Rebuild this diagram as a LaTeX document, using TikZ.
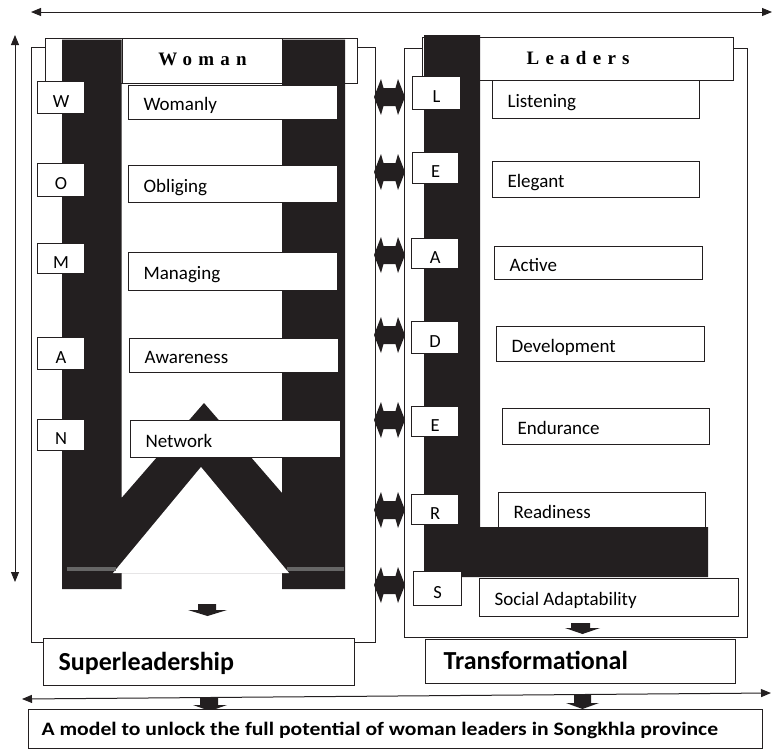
\documentclass[tikz,border=0pt]{standalone}
\usepackage{fontspec}
\setmainfont{Carlito}
\newfontfamily\hdrfont[LetterSpace=33]{Liberation Serif}
\newfontfamily\modelfont[FakeStretch=1.14]{Carlito}
\usetikzlibrary{arrows.meta}
\definecolor{ink}{RGB}{35,31,32}
\tikzset{
  bx/.style={draw=ink, line width=1.2pt, fill=white, anchor=north west},
  wbox/.style={bx, inner ysep=0pt, inner xsep=15pt, text height=16pt, text depth=0pt, font=\fontsize{19}{21}\selectfont},
  lbox/.style={bx, inner sep=0pt, text height=19pt, text depth=0pt, font=\fontsize{18.5}{20}\selectfont},
  outerbox/.style={bx, inner sep=0pt},
  thinarrow/.style={draw=ink, line width=1pt, {Triangle[length=10pt,width=8pt]}-{Triangle[length=10pt,width=8pt]}},
  hdr/.style={bx, inner sep=0pt, font=\hdrfont\bfseries\fontsize{19}{21}\selectfont},
}
\newcommand\wordbox[6]{\node[wbox, minimum height=#5pt] (#1) at (#2,#3) {\makebox[\dimexpr#4pt-30pt\relax][l]{#6}};}
\newcommand\letbox[6]{\node[lbox, minimum width=#4pt, minimum height=#5pt] (#1) at (#2,#3) {#6};}
\newcommand\dblarrow[1]{\fill[ink] (374,#1) -- (381,#1-18) -- (383.5,#1-9) -- (395.5,#1-9) -- (398,#1-18) -- (405,#1) -- (398,#1+18) -- (395.5,#1+9) -- (383.5,#1+9) -- (381,#1+18) -- cycle;}
\newcommand\downblock[6]{\fill[ink] (#1,#3) rectangle (#2,#4) (#5,#4) -- (#6,#4) -- ({(#5+#6)/2},#4+6) -- cycle;}
\begin{document}
\begin{tikzpicture}[x=1pt,y=-1pt]
\useasboundingbox (0,0) rectangle (776,750);
% guide arrows
\coordinate (topL) at (31,12);
\coordinate (topR) at (772,12);
\coordinate (vT) at (15,35);
\coordinate (vB) at (15,582);
\draw[thinarrow] (topL) -- (topR);
\draw[thinarrow] (vT) -- (vB);
% outer boxes
\node[outerbox, minimum width=344pt, minimum height=595pt] (lout) at (31,47) {};
\node[outerbox, minimum width=343pt, minimum height=589pt] (rout) at (404,48) {};
% left header and W
\node[outerbox, minimum width=312pt, minimum height=45pt] (lhead) at (45,38) {};
\fill[ink] (62,39.5) -- (121.5,39.5) -- (121.5,498) -- (204,403) -- (282,493) -- (282,39.5) -- (345,39.5) -- (345,589) -- (282,589) -- (282,573) -- (121.5,573) -- (121.5,589) -- (62,589) -- cycle;
\fill[white] (113,573) -- (201,467) -- (289,573) -- cycle;
\fill[black!60] (67,567) rectangle (116,571);
\fill[black!60] (287,567) rectangle (344,571);
\node[hdr, minimum width=160pt, minimum height=45pt, text height=13pt, text depth=4pt] (woman) at (122,38) {Woman\hspace{-6pt}};
% right header and L
\node[hdr, minimum width=311pt, minimum height=43pt, text height=14pt, text depth=3pt] (leaders) at (422,37) {Leaders\hspace{-6pt}};
\fill[ink] (424,35) -- (480,35) -- (480,527) -- (708,527) -- (708,577) -- (424,577) -- cycle;
% left column
\wordbox{womanly}{128}{85}{209}{34}{Womanly}
\wordbox{obliging}{128}{165}{209}{37}{Obliging}
\wordbox{managing}{128}{252}{209}{38}{Managing}
\wordbox{awareness}{129}{338}{209}{34}{Awareness}
\wordbox{network}{130}{420}{210}{37}{Network}
\letbox{lW}{37}{81}{47}{32}{W}
\letbox{lO}{37}{163}{47}{33}{O}
\letbox{lM}{37}{243}{47}{30}{M}
\letbox{lA}{37}{337}{47}{32}{A}
\letbox{lN}{37}{419}{47}{31}{N}
% right column
\wordbox{listening}{492}{80}{207}{38}{Listening}
\wordbox{elegant}{492}{161}{207}{36}{Elegant}
\wordbox{active}{494}{246}{208}{33}{Active}
\wordbox{development}{496}{326}{208}{35}{Development}
\wordbox{endurance}{502}{408}{207}{36}{Endurance}
\wordbox{readiness}{498}{492}{207}{35}{Readiness}
\wordbox{social}{479}{578}{259}{38}{Social Adaptability}
\letbox{rL}{412}{76}{48}{33}{L}
\letbox{rE}{412}{152}{46}{31}{E}
\letbox{rA}{411}{238}{47}{30}{A}
\letbox{rD}{411}{321}{47}{32}{D}
\letbox{rE2}{411}{406}{47}{30}{E}
\letbox{rR}{411}{494}{47}{30}{R}
\letbox{rS}{413}{571}{48}{34}{S}
% middle double arrows
\dblarrow{97}
\dblarrow{172}
\dblarrow{255}
\dblarrow{335}
\dblarrow{420}
\dblarrow{510}
\dblarrow{585}
% small down arrows
\downblock{198}{216}{604}{610}{188}{227}
\downblock{571}{590}{623}{628}{565}{600}
% bottom boxes
\node[bx, inner ysep=0pt, inner xsep=15pt, minimum height=47pt, text height=16pt, text depth=0pt, font=\bfseries\fontsize{26}{28}\selectfont] (super) at (43,638) {\makebox[281pt][l]{Superleadership}};
\node[bx, inner ysep=0pt, inner xsep=18pt, minimum height=44pt, text height=16pt, text depth=0pt, font=\bfseries\fontsize{26}{28}\selectfont] (trans) at (425,639) {\makebox[274pt][l]{Transformational}};
\coordinate (bL) at (22,699);
\coordinate (bR) at (771,693);
\draw[thinarrow] (bL) -- (bR);
\downblock{200}{218}{698}{705}{193}{227}
\downblock{574}{591}{695}{703}{566}{599}
\node[bx, inner ysep=0pt, inner xsep=13pt, minimum height=39pt, text height=12pt, text depth=0pt, font=\modelfont\bfseries\fontsize{19}{21}\selectfont] (model) at (28,709) {\makebox[708pt][l]{A model to unlock the full potential of woman leaders in Songkhla province}};
\end{tikzpicture}
\end{document}
